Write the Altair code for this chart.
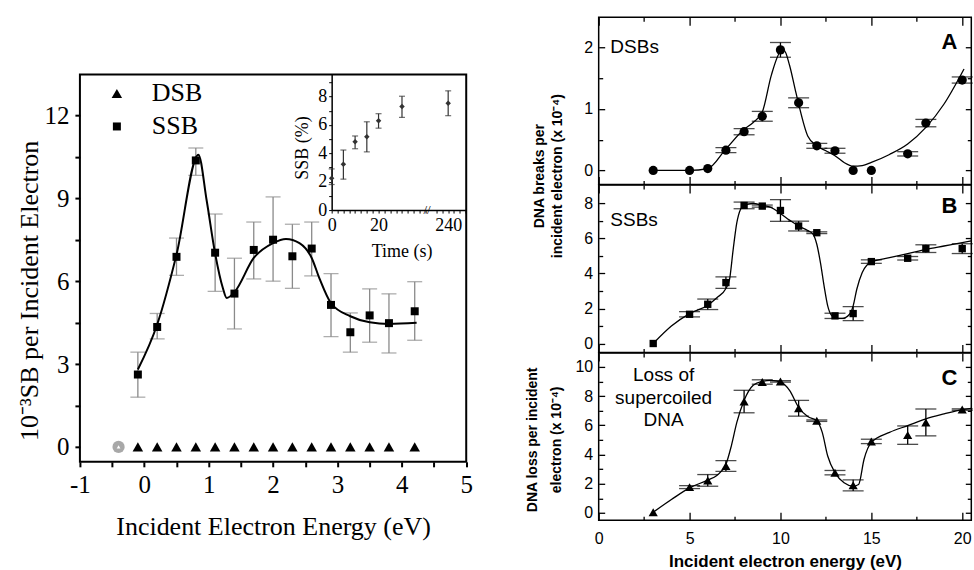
import altair as alt
import pandas as pd

SERIF = "Liberation Serif"
SANS = "Liberation Sans"
GREY = "#8a8a8a"

# ---------------- Left figure: strand breaks per incident electron ----------------
energy = [-0.1, 0.2, 0.5, 0.8, 1.1, 1.4, 1.7, 2.0, 2.3, 2.6, 2.9, 3.2, 3.5, 3.8, 4.2]
ssb = [2.62, 4.34, 6.88, 10.37, 7.03, 5.55, 7.13, 7.50, 6.90, 7.18, 5.14, 4.15, 4.76, 4.48, 4.91]
ssb_hi = [3.43, 4.83, 7.56, 10.82, 8.43, 6.83, 8.14, 9.05, 8.06, 8.14, 6.27, 4.85, 5.72, 5.54, 5.98]
ssb_lo = [1.80, 3.91, 6.21, 9.83, 5.63, 4.27, 6.08, 6.00, 5.74, 6.19, 3.99, 3.43, 3.79, 3.40, 3.86]
dsb = [0, 0, 0, 0, 0, 0, 0, 0, 0, 0, 0, 0, 0, 0, 0]
control_energy = [-0.4]
control_value = [0]
fit_energy = [-0.1, 0.2, 0.5, 0.84, 0.97, 1.1, 1.22, 1.28, 1.4, 1.7, 2.0, 2.2, 2.41,
              2.6, 2.72, 2.9, 3.2, 3.5, 3.8, 4.23]
fit_value = [2.8, 4.43, 6.96, 10.58, 8.9, 7.0, 5.75, 5.39, 5.6, 6.84, 7.38, 7.53, 7.38,
             6.84, 6.1, 5.2, 4.73, 4.51, 4.45, 4.49]
left_x_ticks = [-1, -0.5, 0, 0.5, 1, 1.5, 2, 2.5, 3, 3.5, 4, 4.5, 5]
left_y_ticks = [0, 1.5, 3, 4.5, 6, 7.5, 9, 10.5, 12]

# inset: SSB (%) vs time, broken time axis
inset_time = [0, 5, 10, 15, 20, 30, 240]
inset_ssb = [2.25, 3.23, 4.82, 5.17, 6.29, 7.29, 7.52]
inset_hi = [2.90, 4.23, 5.22, 6.22, 6.79, 8.02, 8.40]
inset_lo = [1.80, 2.18, 4.32, 4.10, 5.77, 6.53, 6.65]
inset_y_ticks = [0, 1, 2, 3, 4, 5, 6, 7, 8, 9]

# ---------------- Right figure: panels A, B, C ----------------
r_energy = [3, 5, 6, 7, 8, 9, 10, 11, 12, 13, 14, 15, 17, 18, 20]
dsb_r = [0, 0, 0.03, 0.33, 0.63, 0.88, 1.96, 1.10, 0.40, 0.32, 0, 0, 0.27, 0.77, 1.47]
dsb_r_err = [0, 0, 0, 0.04, 0.05, 0.08, 0.12, 0.08, 0.04, 0.04, 0, 0, 0.035, 0.06, 0.05]
ssb_r = [0, 1.67, 2.24, 3.48, 7.89, 7.85, 7.60, 6.71, 6.33, 1.58, 1.71, 4.68, 4.87, 5.42, 5.42]
ssb_r_err = [0, 0.15, 0.30, 0.33, 0.19, 0.06, 0.62, 0.28, 0.05, 0.15, 0.40, 0.10, 0.10, 0.22, 0.28]
loss_r = [0.05, 1.77, 2.23, 3.22, 7.63, 8.97, 9.01, 7.17, 6.32, 2.76, 1.89, 4.90, 5.33, 6.20, 7.08]
loss_r_err = [0, 0.10, 0.40, 0.37, 0.77, 0.15, 0.05, 0.54, 0.05, 0.15, 0.38, 0.15, 0.63, 0.92, 0.05]

fitA_x = [3, 5, 6, 7, 8, 8.5, 9, 9.5, 10, 10.2, 10.5, 10.8, 11, 11.5, 12, 12.5, 13, 13.5,
          14, 14.5, 15, 16, 17, 18, 19, 20.1]
fitA_y = [0, 0, 0.03, 0.35, 0.67, 0.78, 0.95, 1.55, 1.93, 1.95, 1.71, 1.33, 1.08, 0.56, 0.40,
          0.32, 0.24, 0.13, 0.07, 0.08, 0.13, 0.26, 0.43, 0.70, 1.08, 1.65]
fitB_x = [3, 4, 5, 6, 6.5, 7, 7.2, 7.4, 7.6, 7.8, 8, 8.5, 9, 9.5, 10, 10.5, 11, 11.5, 11.8, 12,
          12.2, 12.4, 12.6, 12.8, 13, 13.4, 13.8, 14, 14.2, 14.5, 15, 16, 17, 18, 19, 20, 20.5]
fitB_y = [0, 1.0, 1.71, 2.19, 2.62, 3.14, 3.67, 5.38, 6.9, 7.66, 7.89, 8.0, 7.89, 7.76, 7.43,
          7.05, 6.71, 6.46, 6.24, 5.67, 4.62, 3.29, 2.15, 1.62, 1.48, 1.43, 1.67, 2.15, 3.1,
          4.05, 4.66, 4.9, 5.13, 5.38, 5.57, 5.76, 5.86]
fitC_x = [3, 4, 5, 6, 6.5, 7, 7.3, 7.6, 8, 8.5, 9, 9.5, 10, 10.5, 11, 11.5, 12, 12.3, 12.6, 13,
          13.5, 14, 14.3, 14.6, 15, 16, 17, 18, 19, 20, 20.5]
fitC_y = [0.05, 0.92, 1.72, 2.25, 2.57, 3.33, 4.6, 6.2, 7.7, 8.74, 9.01, 9.08, 8.97, 8.39,
          7.24, 6.6, 6.32, 5.52, 3.9, 2.76, 2.07, 1.84, 1.95, 3.68, 4.83, 5.52, 5.98, 6.44,
          6.78, 7.08, 7.17]
r_x_major = [0, 5, 10, 15, 20]
r_x_minor = [2.5, 7.5, 12.5, 17.5]

# ================= layout constants =================
RW, RH = 373.0, 167.5
LW = 386.7
LH = 3 * RH                 # left layer spans the full height of the right column
L_TOP, L_BOT = 57.3, 445.0  # left frame inside that layer
I_BOT = L_TOP + 135.7       # inset bottom
I_LEFT = 252.0              # inset left

# ================= build left figure =================
lx = alt.Scale(domain=[-1, 5], nice=False, zero=False)
ly = alt.Scale(domain=[-0.54, 13.48], range=[L_BOT, L_TOP], nice=False, zero=False)

ssb_df = pd.DataFrame({"energy": energy, "value": ssb, "hi": ssb_hi, "lo": ssb_lo})
pts_df = pd.DataFrame({
    "energy": energy + energy,
    "value": dsb + ssb,
    "series": ["DSB"] * len(energy) + ["SSB"] * len(energy),
})
fit_df = pd.DataFrame({"energy": fit_energy, "value": fit_value})
ctrl_df = pd.DataFrame({"energy": control_energy, "value": control_value})

left_x_axis = alt.Axis(
    orient="bottom", offset=-(LH - L_BOT),
    values=left_x_ticks,
    labelExpr="datum.value % 1 == 0 ? (datum.value < 0 ? '-' + (-datum.value) : '' + datum.value) : ''",
    tickSize=5, tickWidth=2, tickColor="black", domain=False, grid=False,
    labelFont=SERIF, labelFontSize=25, labelColor="black", labelPadding=6, labelFlush=False,
    title="Incident Electron Energy (eV)", titleFont=SERIF, titleFontSize=26,
    titleFontWeight="normal", titleColor="black", titleY=65, titleBaseline="middle")
left_y_axis = alt.Axis(
    orient="left",
    values=left_y_ticks,
    labelExpr="datum.value % 3 == 0 ? datum.label : ''",
    tickSize=5, tickWidth=2, tickColor="black", domain=False, grid=False,
    labelFont=SERIF, labelFontSize=25, labelColor="black", labelPadding=6, labelFlush=False,
    title="10⁻³SB per Incident Electron", titleFont=SERIF, titleFontSize=26,
    titleFontWeight="normal", titleColor="black", titleAngle=270, titleX=-50,
    titleY=L_TOP + 216, titleAlign="center", titleBaseline="middle")

legend = alt.Legend(title=None, orient="none", legendX=24, legendY=L_TOP + 6, direction="vertical",
                    labelFont=SERIF, labelFontSize=26, labelColor="black", labelOffset=22,
                    rowPadding=7, padding=0, symbolFillColor="black", symbolStrokeWidth=0,
                    symbolOpacity=1)


def lX(field="energy:Q", axis=None):
    return alt.X(field, scale=lx, axis=axis)


def lY(field, axis=None):
    return alt.Y(field, scale=ly, axis=axis)


frame = alt.Chart(pd.DataFrame({"k": [0]})).mark_rect(
    fill="transparent", stroke="black", strokeWidth=2).encode(
    x=alt.value(0), x2=alt.value(LW), y=alt.value(L_TOP), y2=alt.value(L_BOT))
bars = alt.Chart(ssb_df).mark_rule(color=GREY, strokeWidth=1.3).encode(
    x=lX(), y=lY("lo:Q"), y2="hi:Q")
caps_hi = alt.Chart(ssb_df).mark_tick(color=GREY, thickness=1.3, size=15, orient="horizontal").encode(
    x=lX(), y=lY("hi:Q"))
caps_lo = alt.Chart(ssb_df).mark_tick(color=GREY, thickness=1.3, size=15, orient="horizontal").encode(
    x=lX(), y=lY("lo:Q"))
fit = alt.Chart(fit_df).mark_line(color="black", strokeWidth=2, interpolate="monotone").encode(
    x=lX(axis=left_x_axis), y=lY("value:Q", axis=left_y_axis))
pts = alt.Chart(pts_df).mark_point(filled=True, opacity=1, color="black", strokeWidth=0).encode(
    x=lX(), y=lY("value:Q"),
    shape=alt.Shape("series:N", scale=alt.Scale(domain=["DSB", "SSB"], range=["triangle-up", "square"]), legend=legend),
    size=alt.Size("series:N", scale=alt.Scale(domain=["DSB", "SSB"], range=[110, 64]), legend=legend))
ctrl = alt.Chart(ctrl_df).mark_circle(color="#a8a8a8", size=150, opacity=1).encode(
    x=lX(), y=lY("value:Q"))
ctrl_in = alt.Chart(ctrl_df).mark_point(shape="triangle-up", filled=True, color="white", size=14, opacity=1).encode(
    x=lX(), y=lY("value:Q"))

# inset
ix = alt.Scale(domain=[0, 57.4], range=[I_LEFT, LW], nice=False, zero=False)
iy = alt.Scale(domain=[0, 9.55], range=[I_BOT, L_TOP], nice=False, zero=False)
inset_df = pd.DataFrame({"time": inset_time, "v": inset_ssb, "hi": inset_hi, "lo": inset_lo})
inset_ticks = [0, 2.5, 5, 7.5, 10, 12.5, 15, 17.5, 20, 22.5, 25, 27.5, 30, 32.5, 35, 37.5, 40,
               44.7, 47.2, 49.7, 52.2, 54.7, 57.2]
inset_x_axis = alt.Axis(
    orient="bottom", offset=-(LH - I_BOT), values=inset_ticks,
    labelExpr="datum.value == 0 ? '0' : (datum.value == 20 ? '20' : (abs(datum.value - 49.7) < 0.01 ? '240' : ''))",
    tickSize=3, tickWidth=1, tickColor="black", domain=True, domainColor="black", domainWidth=1.5,
    grid=False, labelFont=SERIF, labelFontSize=18, labelColor="black", labelPadding=3,
    labelFlush=False, title="Time (s)", titleFont=SERIF, titleFontSize=18,
    titleFontWeight="normal", titleColor="black", titleX=322, titleY=41, titleBaseline="middle")
inset_y_axis = alt.Axis(
    orient="left", offset=-I_LEFT, values=inset_y_ticks,
    labelExpr="datum.value % 2 == 0 ? datum.label : ''",
    tickSize=3, tickWidth=1, tickColor="black", domain=True, domainColor="black", domainWidth=1.5,
    grid=False, labelFont=SERIF, labelFontSize=18, labelColor="black", labelPadding=2,
    labelFlush=False, title="SSB (%)", titleFont=SERIF, titleFontSize=18,
    titleFontWeight="normal", titleColor="black", titleAngle=270, titleX=-29,
    titleY=L_TOP + 73, titleAlign="center", titleBaseline="middle")

ibase = alt.Chart(inset_df).transform_calculate(pos="datum.time > 40 ? datum.time - 190.3 : datum.time")
ibars = ibase.mark_rule(color="#333333", strokeWidth=1.2).encode(
    x=alt.X("pos:Q", scale=ix, axis=inset_x_axis),
    y=alt.Y("lo:Q", scale=iy, axis=inset_y_axis), y2="hi:Q")
icap_hi = ibase.mark_tick(color="#333333", thickness=1.2, size=6, orient="horizontal").encode(
    x=alt.X("pos:Q", scale=ix, axis=None), y=alt.Y("hi:Q", scale=iy, axis=None))
icap_lo = ibase.mark_tick(color="#333333", thickness=1.2, size=6, orient="horizontal").encode(
    x=alt.X("pos:Q", scale=ix, axis=None), y=alt.Y("lo:Q", scale=iy, axis=None))
ipts = ibase.mark_point(shape="diamond", filled=True, color="#333333", size=30, opacity=1).encode(
    x=alt.X("pos:Q", scale=ix, axis=None), y=alt.Y("v:Q", scale=iy, axis=None))
ibreak = alt.Chart(pd.DataFrame({"pos": [40.7], "v": [0]})).mark_text(
    text="//", font=SERIF, fontSize=13, color="black", baseline="middle", align="center").encode(
    x=alt.X("pos:Q", scale=ix, axis=None), y=alt.Y("v:Q", scale=iy, axis=None))

left = alt.layer(frame, bars, caps_hi, caps_lo, fit, pts, ctrl, ctrl_in,
                 ibars, icap_hi, icap_lo, ipts, ibreak).resolve_scale(
    x="independent", y="independent").resolve_axis(
    x="independent", y="independent").properties(
    width=LW, height=LH, view=alt.ViewBackground(stroke="transparent", strokeWidth=0))

# ================= build right figure =================
rx = alt.Scale(domain=[0, 20.5], nice=False, zero=False)


def tick_axis(orient, offset, values, size):
    return alt.Axis(orient=orient, offset=offset, values=values, tickSize=size, tickWidth=1.3,
                    tickColor="black", ticks=True, labels=False, domain=False, grid=False, title=None)


def text_layer(txt, x, y, size, weight="normal", align="left", baseline="middle", angle=0, line_height=None):
    kw = dict(align=align, baseline=baseline, font=SANS, fontSize=size, fontWeight=weight, color="black")
    if angle:
        kw["angle"] = angle
    if line_height:
        kw["lineBreak"] = "\n"
        kw["lineHeight"] = line_height
    return alt.Chart(pd.DataFrame({"t": [txt]})).mark_text(**kw).encode(
        text="t:N", x=alt.value(x), y=alt.value(y))


def panel(vals, errs, fx, fy, ydom, ymaj, ymin, shape, msize, bottom_labels, extras):
    ry = alt.Scale(domain=ydom, nice=False, zero=False)
    pdf = pd.DataFrame({"x": r_energy, "y": vals, "err": errs})
    pdf["lo"] = pdf["y"] - pdf["err"]
    pdf["hi"] = pdf["y"] + pdf["err"]
    edf = pdf[pdf["err"] > 0]
    cdf = pd.DataFrame({"x": fx, "y": fy})
    if bottom_labels:
        xlab = alt.Axis(orient="bottom", values=r_x_major, ticks=False, domain=False, grid=False,
                        labelFont=SANS, labelFontSize=16, labelColor="black", labelPadding=10,
                        labelFlush=False, title="Incident electron energy (eV)", titleFont=SANS,
                        titleFontSize=17, titleFontWeight="bold", titleColor="black", titleY=41,
                        titleBaseline="middle")
    else:
        xlab = None
    ylab = alt.Axis(orient="left", values=ymaj, ticks=False, domain=False, grid=False,
                    labelFont=SANS, labelFontSize=16, labelColor="black", labelPadding=6,
                    labelFlush=False, title=None)
    line = alt.Chart(cdf).mark_line(color="black", strokeWidth=1.3, interpolate="monotone", clip=True).encode(
        x=alt.X("x:Q", scale=rx, axis=xlab), y=alt.Y("y:Q", scale=ry, axis=ylab))
    rules = alt.Chart(edf).mark_rule(color="black", strokeWidth=1.3).encode(
        x=alt.X("x:Q", scale=rx, axis=tick_axis("top", -RH, r_x_major, 8)),
        y=alt.Y("lo:Q", scale=ry, axis=tick_axis("right", -RW, ymaj, 6)), y2="hi:Q")
    cap_hi = alt.Chart(edf).mark_tick(color="black", thickness=1.3, size=21, orient="horizontal").encode(
        x=alt.X("x:Q", scale=rx, axis=tick_axis("top", -RH, r_x_minor, 4)),
        y=alt.Y("hi:Q", scale=ry, axis=tick_axis("right", -RW, ymin, 4)))
    cap_lo = alt.Chart(edf).mark_tick(color="black", thickness=1.3, size=21, orient="horizontal").encode(
        x=alt.X("x:Q", scale=rx, axis=tick_axis("bottom", -RH, r_x_major, 8)),
        y=alt.Y("lo:Q", scale=ry, axis=tick_axis("left", -RW, ymaj, 6)))
    points = alt.Chart(pdf).mark_point(shape=shape, filled=True, color="black", size=msize, opacity=1).encode(
        x=alt.X("x:Q", scale=rx, axis=tick_axis("bottom", -RH, r_x_minor, 4)),
        y=alt.Y("y:Q", scale=ry, axis=tick_axis("left", -RW, ymin, 4)))
    return alt.layer(line, rules, cap_hi, cap_lo, points, *extras).resolve_axis(
        x="independent", y="independent").properties(
        width=RW, height=RH, view=alt.ViewBackground(stroke="black", strokeWidth=1.5))


panelA = panel(dsb_r, dsb_r_err, fitA_x, fitA_y, [-0.23, 2.49], [0, 1, 2], [0.5, 1.5],
               "circle", 85, False, [
                   text_layer("DSBs", 11.7, 30, 19),
                   text_layer("A", 359, 25, 22, weight="bold", align="right"),
                   text_layer("DNA breaks per", -59, 159, 14, weight="bold", align="center", angle=270),
                   text_layer("incident electron (x 10⁻⁴)", -41, 159, 14, weight="bold", align="center", angle=270),
               ])
panelB = panel(ssb_r, ssb_r_err, fitB_x, fitB_y, [-0.51, 9.05], [0, 2, 4, 6, 8], [1, 3, 5, 7],
               "square", 54, False, [
                   text_layer("SSBs", 11.7, 35, 19),
                   text_layer("B", 359, 21, 22, weight="bold", align="right"),
               ])
panelC = panel(loss_r, loss_r_err, fitC_x, fitC_y, [-0.5, 10.96], [0, 2, 4, 6, 8, 10], [1, 3, 5, 7, 9],
               "triangle-up", 85, True, [
                   text_layer("Loss of\nsupercoiled\nDNA", 65, 13.5, 19, align="center", baseline="top", line_height=22.5),
                   text_layer("C", 359, 25, 22, weight="bold", align="right"),
                   text_layer("DNA loss per incident", -66, 87, 14, weight="bold", align="center", angle=270),
                   text_layer("electron (x 10⁻⁴)", -42, 87, 14, weight="bold", align="center", angle=270),
               ])

right = alt.vconcat(panelA, panelB, panelC, spacing=0, bounds="flush")

chart = alt.hconcat(left, right, spacing=132.3, bounds="flush").resolve_scale(
    shape="independent", size="independent").resolve_legend(
    shape="independent", size="independent").properties(
    padding={"left": 17, "top": 15, "right": 0, "bottom": 0}, background="white")

chart.save("out.html", embed_options={"renderer": "svg", "actions": False})
